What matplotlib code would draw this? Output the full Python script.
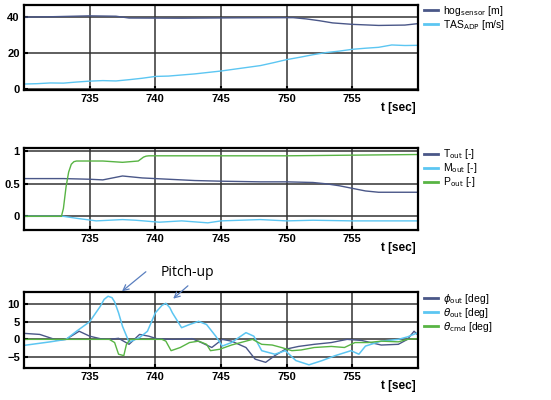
import matplotlib.pyplot as plt
import numpy as np

# panel 1: altitude and airspeed
t_hog = [730, 732, 735, 737, 738, 742, 746, 750.5, 751.5, 752.5, 753.5, 755, 757, 759, 760]
hog = [39.8, 40.0, 40.5, 40.3, 39.3, 39.2, 39.4, 39.5, 38.8, 37.8, 36.6, 35.8, 35.2, 35.4, 36.2]
t_tas = [730, 731, 732, 733, 734, 735, 736, 737, 738, 739, 740, 741, 742, 743, 744, 745,
         746, 747, 748, 749, 750, 751, 752, 753, 754, 755, 756, 757, 758, 759, 760]
tas = [2.8, 3.0, 3.4, 3.3, 3.9, 4.4, 4.7, 4.5, 5.2, 6.0, 7.0, 7.2, 7.8, 8.4, 9.2, 10.0,
       11.0, 12.0, 13.0, 14.6, 16.3, 17.6, 19.0, 20.2, 21.0, 22.0, 22.6, 23.1, 24.4, 24.1, 24.2]

# panel 2: controller outputs
t_T = [730, 733, 735, 736, 737.5, 739, 741, 743, 745, 748, 750, 752, 753, 754, 755, 756, 757, 760]
T_out = [0.58, 0.58, 0.57, 0.56, 0.62, 0.59, 0.57, 0.55, 0.54, 0.53, 0.53, 0.52, 0.50, 0.47, 0.43, 0.39, 0.37, 0.37]
t_M = [730, 733, 734, 735.5, 737.5, 738.5, 740.3, 742, 744, 745, 748, 750, 752, 755, 760]
M_out = [0.0, 0.0, -0.03, -0.07, -0.05, -0.06, -0.09, -0.07, -0.1, -0.07, -0.05, -0.07, -0.06, -0.07, -0.07]
t_P = [730, 732.85, 733.0, 733.2, 733.4, 733.6, 733.8, 734, 736, 737.5, 738.7, 738.9, 739.1, 739.3, 739.5, 745, 750, 755, 760]
P_out = [0.0, 0.0, 0.12, 0.45, 0.68, 0.8, 0.84, 0.85, 0.85, 0.83, 0.85, 0.88, 0.91, 0.925, 0.93, 0.93, 0.93, 0.94, 0.95]

# panel 3: attitude angles
t_phi = [730, 731.2, 732.5, 733.2, 734.2, 735, 735.8, 736.5, 737.2, 738, 738.8, 739.5, 740.1,
         741.3, 742.8, 743.5, 744.3, 745.1, 745.8, 746.9, 747.6, 748.4, 749.1, 749.9, 750.9,
         752.1, 753.4, 754.6, 755.7, 757.2, 758.5, 759.2, 759.7, 760]
phi = [1.7, 1.4, -0.2, 0.0, 2.3, 0.9, 0.2, 0.0, 0.3, -1.4, 1.4, 0.9, 0.2,
       0.0, 0.2, -0.9, -2.3, 0.0, -0.5, -2.3, -5.6, -6.5, -4.6, -2.8, -2.0,
       -1.4, -0.9, 0.0, -0.3, -1.6, -1.4, 0.0, 2.3, 1.2]
t_theta = [730, 732, 733.2, 734, 735, 735.8, 736.1, 736.4, 736.7, 736.9, 737.2, 737.5, 738, 738.8,
           739.4, 740, 740.5, 740.8, 741.1, 741.3, 742, 742.6, 743.3, 743.9, 744.6, 745.1, 745.8,
           746.9, 747.5, 748.1, 749.1, 749.9, 750.7, 751.7, 752.7, 753.7, 754.9, 755.5, 756,
           757.2, 758.5, 759.2, 760]
theta = [-1.7, -0.7, 0.0, 2.3, 5.0, 9.3, 11.3, 12.2, 11.8, 10.6, 7.5, 3.7, -0.8, 0.5,
         2.3, 7.5, 9.6, 10.2, 9.0, 7.5, 3.3, 4.2, 5.1, 4.2, 0.9, -1.9, -0.9,
         1.9, 0.9, -3.2, -4.2, -3.2, -6.0, -7.2, -6.0, -4.6, -3.2, -4.2, -1.9,
         -0.5, 0.0, 0.7, 1.9]
t_cmd = [730, 736.5, 736.9, 737.2, 737.6, 737.8, 738.1, 740.5, 740.8, 741.2, 741.9, 742.6, 743.3,
         743.9, 744.2, 744.9, 745.8, 746.9, 747.4, 748.1, 748.9, 749.6, 750.4, 751.1, 752.1,
         753.4, 754.4, 755.2, 756.2, 757.2, 758.5, 759.2, 760]
theta_cmd = [0.0, 0.0, -0.9, -4.2, -4.6, -1.4, 0.0, 0.0, -0.5, -3.2, -2.3, -0.9, -0.5,
             -1.4, -3.2, -2.8, -1.6, -0.5, 0.0, -1.4, -1.6, -2.3, -3.2, -3.0, -2.3,
             -2.0, -2.3, -0.9, -0.9, -0.5, -0.7, 0.0, 0.2]

xticks = [735, 740, 745, 750, 755]
dark = '#4a5788'
light = '#5cc6f2'
green = '#58b444'

plt.rcParams['font.family'] = ['Liberation Sans', 'DejaVu Sans']

fig = plt.figure(figsize=(5.51, 4.0), dpi=100)
W, H = 551, 400

def make_ax(top, bottom):
    ax = fig.add_axes([24 / W, 1 - bottom / H, (418 - 24) / W, (bottom - top) / H])
    ax.set_xlim(730, 760)
    ax.set_xticks(xticks)
    ax.grid(True, color='#333333', lw=1.1)
    ax.set_axisbelow(True)
    for s in ax.spines.values():
        s.set_linewidth(1.6)
    ax.tick_params(direction='in', length=3, width=1.5, labelsize=8, pad=3)
    for lab in ax.get_xticklabels() + ax.get_yticklabels():
        lab.set_fontweight('bold')
    ax.annotate('t [sec]', xy=(0.95, 0), xycoords='axes fraction', xytext=(0, -18),
                textcoords='offset pixels', ha='center', va='center',
                fontsize=8.5, fontweight='bold')
    return ax

def legend(ax, lines, labels, y0):
    leg = ax.legend(lines, labels, loc='upper left', bbox_to_anchor=(1.005, y0),
                    frameon=False, fontsize=7.5, handlelength=1.3, handletextpad=0.5,
                    labelspacing=0.0, borderaxespad=0)
    for l in leg.get_lines():
        l.set_linewidth(2)

# panel 1
ax1 = make_ax(5, 90)
ax1.set_ylim(-0.5, 46.5)
ax1.set_yticks([0, 20, 40])
l1, = ax1.plot(t_hog, hog, color=dark, lw=1)
l2, = ax1.plot(t_tas, tas, color=light, lw=1)
legend(ax1, [l1, l2], [r'hog$_{\mathrm{sensor}}$ [m]', r'TAS$_{\mathrm{ADP}}$ [m/s]'], 1.06)

# panel 2
ax2 = make_ax(148, 230)
ax2.set_ylim(-0.21, 1.05)
ax2.set_yticks([0, 0.5, 1])
ax2.set_yticklabels(['0', '0.5', '1'])
for lab in ax2.get_yticklabels():
    lab.set_fontweight('bold')
l3, = ax2.plot(t_T, T_out, color=dark, lw=1)
l4, = ax2.plot(t_M, M_out, color=light, lw=1)
l5, = ax2.plot(t_P, P_out, color=green, lw=1)
legend(ax2, [l3, l4, l5], [r'T$_{\mathrm{out}}$ [-]', r'M$_{\mathrm{out}}$ [-]', r'P$_{\mathrm{out}}$ [-]'], 1.06)

# panel 3
ax3 = make_ax(292, 368)
ax3.set_ylim(-8.1, 13.4)
ax3.set_yticks([-5, 0, 5, 10])
l6, = ax3.plot(t_phi, phi, color=dark, lw=1)
l7, = ax3.plot(t_theta, theta, color=light, lw=1.1)
l8, = ax3.plot(t_cmd, theta_cmd, color=green, lw=1)
legend(ax3, [l6, l7, l8], [r'$\phi_{\mathrm{out}}$ [deg]', r'$\theta_{\mathrm{out}}$ [deg]',
                           r'$\theta_{\mathrm{cmd}}$ [deg]'], 1.06)

arrow = dict(arrowstyle='->', color='#5a7fbf', lw=0.9)
ax3.annotate('', xy=(737.3, 13.1), xytext=(148 / W, 1 - 270 / H),
             textcoords='figure fraction', arrowprops=arrow, annotation_clip=False)
ax3.annotate('', xy=(741.2, 11.0), xytext=(190 / W, 1 - 284 / H),
             textcoords='figure fraction', arrowprops=arrow, annotation_clip=False)
fig.text(187 / W, 1 - 272 / H, 'Pitch-up', ha='center', va='center', fontsize=10,
         family='Open Sans')

fig.savefig('out.png', dpi=100)
